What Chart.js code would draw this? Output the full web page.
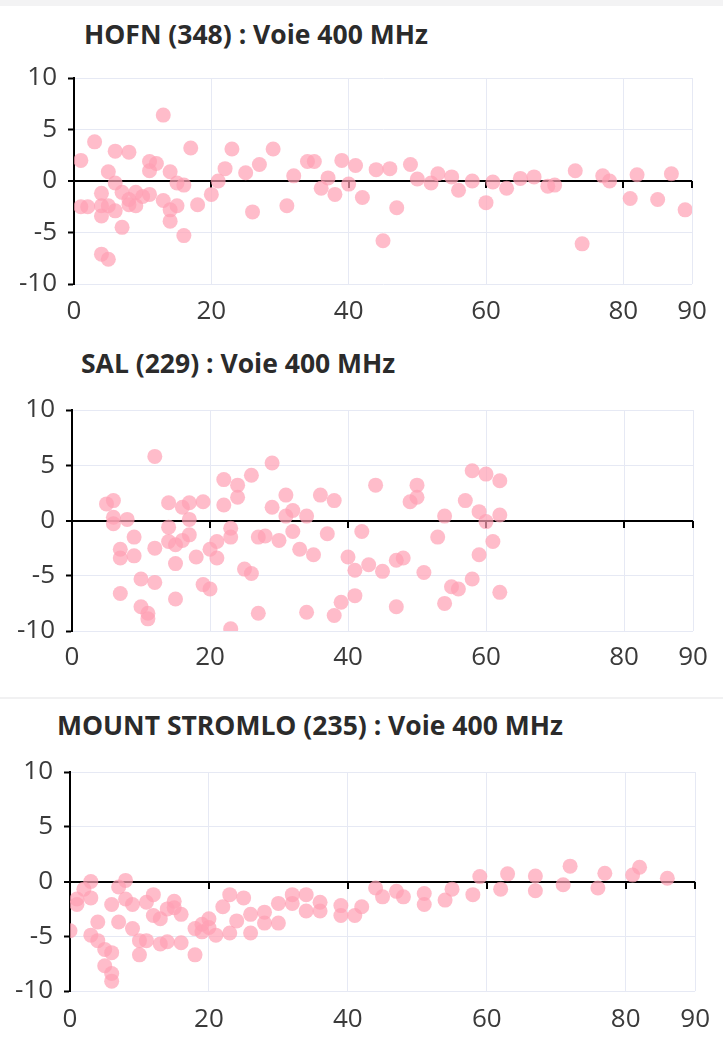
<!DOCTYPE html>
<html>
<head>
<meta charset="utf-8">
<script src="https://cdn.jsdelivr.net/npm/chart.js@4/dist/chart.umd.min.js"></script>
<style>
  body { margin: 0; background: #fff; width: 723px; height: 1043px; position: relative; overflow: hidden; }
  .strip { position: absolute; left: 0; top: 0; width: 723px; height: 6px; background: #f3f3f4; }
  .sep { position: absolute; left: 0; top: 697px; width: 723px; height: 2px; background: #f1f1f2; }
  .title { position: absolute; font-family: "Open Sans", sans-serif; font-weight: 700; font-size: 26.5px;
           line-height: 30px; color: #2b2b2b; white-space: nowrap; }
  .box { position: absolute; left: 0; width: 723px; }
</style>
</head>
<body>
<div class="strip"></div>
<div class="sep"></div>

<div class="title" style="left:84px; top:19px;">HOFN (348) : Voie 400 MHz</div>
<div class="box" style="top:48px; height:286px;"><canvas id="c1"></canvas></div>

<div class="title" style="left:81px; top:348px;">SAL (229) : Voie 400 MHz</div>
<div class="box" style="top:380px; height:301px;"><canvas id="c2"></canvas></div>

<div class="title" style="left:57px; top:710px;">MOUNT STROMLO (235) : Voie 400 MHz</div>
<div class="box" style="top:742px; height:299px;"><canvas id="c3"></canvas></div>

<script>
// HOFN (348)
const hofnX = [1, 1, 2, 3, 4, 4, 4, 4, 5, 5, 5, 6, 6, 6, 7, 7, 8, 8, 8, 9, 9, 10, 11, 11, 11, 12, 13, 13, 14, 14, 14, 15, 15, 16, 16, 17, 18, 20, 21, 22, 23, 25, 26, 27, 29, 31, 32, 34, 35, 36, 37, 38, 39, 40, 41, 42, 44, 45, 46, 47, 49, 50, 52, 53, 55, 56, 58, 60, 61, 63, 65, 67, 69, 70, 73, 74, 77, 78, 81, 82, 85, 87, 89];
const hofnY = [2.0, -2.5, -2.5, 3.8, -1.2, -2.4, -3.4, -7.1, -7.6, 0.9, -2.4, 2.9, -2.9, -0.2, -1.1, -4.5, 2.8, -1.8, -2.3, -1.1, -2.4, -1.5, -1.3, 1.0, 1.9, 1.7, 6.4, -1.9, 0.9, -2.8, -3.9, -2.4, -0.2, -0.4, -5.3, 3.2, -2.3, -1.3, 0.0, 1.2, 3.1, 0.8, -3.0, 1.6, 3.1, -2.4, 0.5, 1.9, 1.9, -0.7, 0.3, -1.3, 2.0, -0.3, 1.5, -1.6, 1.1, -5.8, 1.2, -2.6, 1.6, 0.2, -0.2, 0.7, 0.4, -0.9, 0.0, -2.1, -0.1, -0.7, 0.25, 0.4, -0.5, -0.4, 1.0, -6.1, 0.5, 0.0, -1.7, 0.6, -1.8, 0.7, -2.8];

// SAL (229)
const salX = [5, 6, 6, 6, 8, 7, 7, 7, 9, 9, 10, 10, 11, 11, 12, 12, 12, 14, 14, 14, 15, 15, 15, 16, 17, 17, 17, 16, 18, 19, 19, 20, 20, 21, 21, 22, 22, 23, 23, 23, 24, 24, 25, 26, 26, 27, 27, 28, 29, 29, 30, 31, 31, 32, 32, 33, 34, 34, 35, 36, 37, 38, 38, 39, 40, 41, 41, 42, 43, 44, 45, 47, 48, 47, 49, 50, 50, 51, 53, 54, 54, 55, 56, 57, 58, 58, 59, 59, 60, 60, 61, 62, 62, 62];
const salY = [1.5, 1.8, 0.3, -0.3, 0.1, -2.6, -3.4, -6.6, -1.5, -3.2, -5.3, -7.8, -8.4, -8.9, 5.8, -2.5, -5.6, 1.6, -0.6, -1.9, -2.2, -3.9, -7.1, 1.2, 1.6, 0.1, -1.3, -1.8, -3.3, 1.7, -5.8, -6.2, -2.6, -1.9, -3.4, 3.7, 1.4, -0.7, -1.5, -9.8, 3.2, 2.1, -4.4, 4.1, -4.8, -1.5, -8.4, -1.4, 5.2, 1.2, -1.8, 2.3, 0.4, 0.9, -1.0, -2.6, 0.4, -8.3, -3.1, 2.3, -1.2, 1.8, -8.6, -7.4, -3.3, -4.5, -6.8, -1.0, -4.0, 3.2, -4.6, -3.6, -3.4, -7.8, 1.7, 3.2, 2.1, -4.7, -1.5, 0.4, -7.5, -6.0, -6.2, 1.8, 4.5, -5.3, 0.8, -3.1, 4.2, -0.1, -1.9, 3.6, 0.5, -6.5];

// MOUNT STROMLO (235)
const stromloX = [0, 1, 1, 2, 3, 3, 4, 3, 4, 5, 6, 5, 6, 6, 6, 7, 7, 8, 8, 9, 9, 10, 10, 11, 11, 12, 12, 13, 13, 14, 14, 15, 15, 16, 16, 18, 18, 19, 19, 20, 20, 21, 22, 23, 23, 24, 25, 26, 26, 28, 28, 30, 30, 32, 32, 34, 34, 36, 36, 39, 39, 41, 42, 44, 45, 47, 48, 51, 51, 54, 55, 58, 59, 62, 63, 67, 67, 71, 72, 76, 77, 81, 82, 86];
const stromloY = [-4.5, -2.1, -1.6, -0.7, -1.5, 0.0, -3.7, -4.9, -5.4, -6.2, -6.5, -7.7, -8.4, -9.1, -2.1, -0.5, -3.7, 0.1, -1.6, -2.1, -4.3, -5.4, -6.7, -5.4, -1.9, -1.2, -3.1, -3.4, -5.7, -5.5, -2.5, -1.8, -2.4, -3.0, -5.6, -6.7, -4.3, -3.9, -4.6, -3.4, -4.2, -4.9, -2.3, -1.2, -4.7, -3.6, -1.5, -3.0, -4.7, -2.8, -3.8, -2.0, -3.8, -1.2, -2.0, -1.2, -2.7, -1.9, -2.7, -2.2, -3.1, -3.1, -2.3, -0.6, -1.4, -0.9, -1.4, -1.1, -2.1, -1.7, -0.7, -1.2, 0.45, -0.7, 0.7, 0.5, -0.85, -0.3, 1.4, -0.6, 0.75, 0.6, 1.3, 0.3];

const xTicks = [0, 20, 40, 60, 80, 90];
const yTicks = [-10, -5, 0, 5, 10];

const tickFont = { family: 'Open Sans', size: 26 };
const gridColor = '#e6e9f4';

// little tick marks hanging under the zero line, placed with the x scale
const zeroLineTicks = {
  id: 'zeroLineTicks',
  beforeDatasetsDraw(chart) {
    const { ctx, scales: { x, y } } = chart;
    const y0 = Math.round(y.getPixelForValue(0));
    ctx.save();
    ctx.strokeStyle = '#000';
    ctx.lineWidth = 2;
    xTicks.forEach(v => {
      const px = Math.round(x.getPixelForValue(v));
      ctx.beginPath();
      ctx.moveTo(px, y0);
      ctx.lineTo(px, y0 + 7);
      ctx.stroke();
    });
    ctx.restore();
  }
};

function makeChart(id, xs, ys, axisLeft, padRight, labelPad) {
  new Chart(document.getElementById(id), {
    type: 'scatter',
    data: {
      datasets: [{
        data: xs.map((x, i) => ({ x: x, y: ys[i] })),
        backgroundColor: 'rgba(255, 160, 180, 0.7)',
        borderWidth: 0,
        pointRadius: 7.5,
        pointHoverRadius: 7.5
      }]
    },
    options: {
      responsive: true,
      maintainAspectRatio: false,
      animation: false,
      events: [],
      // top padding kept above the y label half-height so the plot top is fixed
      layout: { padding: { top: 30, right: padRight, left: 0, bottom: 0 } },
      plugins: { legend: { display: false }, tooltip: { enabled: false } },
      scales: {
        x: {
          type: 'linear',
          min: 0, max: 90,
          afterBuildTicks: s => { s.ticks = xTicks.map(v => ({ value: v })); },
          afterFit: s => { s.height = 50; },
          border: { display: false },
          grid: { color: gridColor, drawTicks: false },
          ticks: { font: tickFont, color: '#3a3a3a', padding: labelPad, maxRotation: 0 }
        },
        y: {
          min: -10, max: 10,
          afterBuildTicks: s => { s.ticks = yTicks.map(v => ({ value: v })); },
          afterFit: s => { s.width = axisLeft; },
          border: { color: '#000', width: 2 },
          grid: {
            color: c => (c.tick && c.tick.value === 0 ? '#000' : gridColor),
            lineWidth: c => (c.tick && c.tick.value === 0 ? 2 : 1),
            tickColor: '#000', tickWidth: 2, tickLength: 6
          },
          ticks: { font: tickFont, color: '#3a3a3a', padding: 11 }
        }
      }
    },
    plugins: [zeroLineTicks]
  });
}

makeChart('c1', hofnX, hofnY, 74, 31, 12);
makeChart('c2', salX, salY, 72, 30, 11);
makeChart('c3', stromloX, stromloY, 70, 27, 13);
</script>
</body>
</html>
